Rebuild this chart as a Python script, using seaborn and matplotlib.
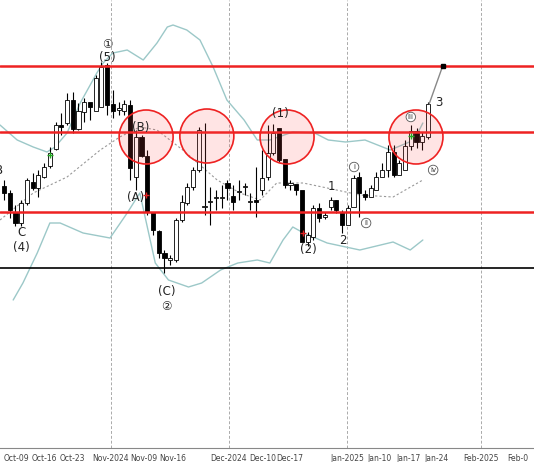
import numpy as np
import matplotlib
matplotlib.use("Agg")
import matplotlib.pyplot as plt
from matplotlib.patches import Ellipse
import seaborn as sns

sns.set_style("white")
plt.rcParams['font.family'] = ['DejaVu Sans']

# price scale: arbitrary units (higher = higher price)
opens  = [314,307,288,277,297,318,312,323,334,351,375,377,400,371,388,398,389,393,435,396,390,389,395,323,363,344,288,269,247,240,240,280,297,313,330,293,298,302,302,317,304,308,313,298,300,310,323,347,372,341,315,316,310,258,263,292,283,293,300,288,275,293,323,306,303,310,323,330,348,325,330,354,369,358,363]
closes = [307,290,277,297,320,312,325,333,347,375,373,400,371,389,398,393,422,433,395,389,392,396,332,363,344,288,270,247,242,242,280,298,313,330,370,293,298,302,303,312,298,308,314,298,298,322,347,367,340,315,317,310,258,265,292,282,285,300,290,275,292,322,307,303,312,323,330,348,325,337,354,369,358,364,396]
highs  = [320,310,295,300,322,327,330,337,353,378,387,407,408,397,402,397,425,438,437,410,398,400,400,370,365,350,285,270,250,245,282,305,317,333,373,377,313,310,315,320,315,320,317,307,333,350,375,376,350,320,320,312,255,268,295,297,288,303,300,290,295,325,328,310,315,328,337,355,355,340,360,375,372,368,398]
lows   = [300,282,274,274,295,310,303,322,332,350,365,375,367,370,378,380,390,438,385,382,385,385,320,310,343,285,265,242,227,235,238,278,295,310,328,285,275,290,292,300,290,300,305,290,283,305,320,345,338,312,310,305,255,254,260,278,281,290,287,267,290,304,283,300,307,320,328,323,323,328,345,350,352,350,361]
lows[17] = 425

# Bollinger bands (x in candle index, y in price)
up_x = [-0.7, 2.3, 5.1, 7.5, 8.9, 11.0, 13.3, 16.2, 17.3, 19.0, 21.5, 24.3, 26.7, 28.5, 29.5, 31.9, 34.2, 36.5, 38.9, 41.9, 44.2, 46.4, 50.4, 54.2, 56.6, 59.6, 63.0, 67.4, 71.6, 73.1]
up_y = [375, 360, 353, 348, 353, 367, 397, 427, 437, 447, 450, 440, 457, 473, 475, 470, 460, 433, 400, 380, 360, 360, 368, 367, 360, 358, 360, 350, 360, 377]
lo_x = [1.6, 3.3, 5.8, 8.0, 9.8, 13.8, 18.5, 21.5, 23.7, 26.4, 28.7, 32.2, 34.5, 37.8, 40.8, 44.2, 46.4, 48.7, 50.4, 52.3, 56.4, 62.1, 67.9, 70.9, 73.1]
lo_y = [200, 217, 247, 277, 277, 267, 262, 287, 307, 237, 220, 213, 217, 230, 237, 240, 237, 260, 273, 267, 257, 250, 258, 250, 260]
md_x = [-0.7, 5.1, 11.0, 16.8, 20.2, 23.7, 26.7, 31.2, 37.2, 41.2, 44.7, 47.6, 52.2, 56.4, 62.1, 67.9, 73.1]
md_y = [280, 307, 323, 350, 363, 373, 370, 350, 320, 307, 300, 317, 317, 312, 305, 303, 320]

tick_pos = [2.09, 6.98, 11.87, 18.67, 24.43, 29.49, 39.27, 45.20, 49.91, 59.86, 65.62, 70.68, 75.57, 83.24, 89.70]
tick_lab = ["Oct-09", "Oct-16", "Oct-23", "Nov-2024", "Nov-09", "Nov-16", "Dec-2024", "Dec-10", "Dec-17",
            "Jan-2025", "Jan-10", "Jan-17", "Jan-24", "Feb-2025", "Feb-0"]
month_pos = [18.67, 39.27, 59.86, 83.24]

red_levels = [434, 368, 288]
black_level = 232
circle_x = [24.8, 35.4, 49.4, 71.9]
circle_y = [363, 364, 363, 363]

labels = [("①", 18.0, 455), ("(5)", 18.0, 442), ("(B)", 23.9, 373), ("(A)", 23.0, 303),
          ("(C)", 28.4, 209), ("②", 28.4, 193), ("C", 3.0, 267), ("(4)", 3.0, 253),
          ("(1)", 48.3, 386), ("(2)", 53.1, 250), ("1", 57.1, 313), ("2", 59.2, 260),
          ("3", 75.9, 397), ("B", -0.9, 330)]
roman = [("i", 61.1, 333), ("ii", 63.2, 277), ("iii", 71.0, 383), ("iv", 74.9, 330)]

fig = plt.figure(figsize=(5.34, 4.62), dpi=100)
ax = fig.add_axes([0, 14/462, 1, 448/462])
n = len(opens)
xs = np.arange(n)
for i in range(n):
    o, c, h, l = opens[i], closes[i], highs[i], lows[i]
    ax.vlines(xs[i], l, h, color="black", lw=0.8, zorder=3)
    bull = c >= o
    ax.bar(xs[i], max(abs(c - o), 1.2), bottom=min(o, c), width=0.72,
           color="white" if bull else "black", edgecolor="black", lw=0.6, zorder=4)

sns.lineplot(x=up_x, y=up_y, ax=ax, color="#9cc8c8", lw=1, sort=False)
sns.lineplot(x=lo_x, y=lo_y, ax=ax, color="#9cc8c8", lw=1, sort=False)
ax.plot(md_x, md_y, color="#999999", lw=0.8, ls=(0, (2, 2)))

for lv in red_levels:
    ax.axhline(lv, color="#ee2222", lw=1.8, zorder=5)
ax.axhline(black_level, color="black", lw=1.2, zorder=5)
for m in month_pos:
    ax.axvline(m, color="#aaaaaa", lw=0.7, ls=(0, (3, 2)), zorder=1)

for cx, cy in zip(circle_x, circle_y):
    ax.add_patch(Ellipse((cx, cy), 54/5.73, 54, facecolor=(1, 0.3, 0.3, 0.15),
                         edgecolor="#ee2222", lw=1.2, zorder=6))

for t, x, y in labels:
    ax.text(x, y, t, ha="center", va="center", fontsize=8.5, color="#222222", zorder=7)
for t, x, y in roman:
    ax.text(x, y, t, ha="center", va="center", fontsize=5, color="#333333", zorder=7,
            bbox=dict(boxstyle="circle,pad=0.25", fc="white", ec="#555555", lw=0.6))

ax.plot([74.2, 76.5], [396, 433], color="#888888", lw=1, zorder=7)
ax.plot([76.6], [434], marker="s", color="black", ms=3, zorder=8)
ax.plot([8.0, 71.0], [345, 364], ls="none", marker="+", color="#22aa22", ms=4, zorder=8)
ax.plot([24.8, 52.2], [305, 267], ls="none", marker="+", color="#dd2222", ms=4, zorder=8)

ax.set_xlim(-0.7, 92.5)
ax.set_ylim(52, 500)
ax.set_yticks([])
ax.set_xticks(tick_pos)
ax.set_xticklabels(tick_lab, fontsize=5.5, color="#444444")
ax.tick_params(axis="x", length=3, width=0.6, pad=1, colors="#666666", labelcolor="#444444")
for s in ["left", "right", "top"]:
    ax.spines[s].set_visible(False)
ax.spines["bottom"].set_color("#888888")
fig.savefig("out.png", dpi=100)
